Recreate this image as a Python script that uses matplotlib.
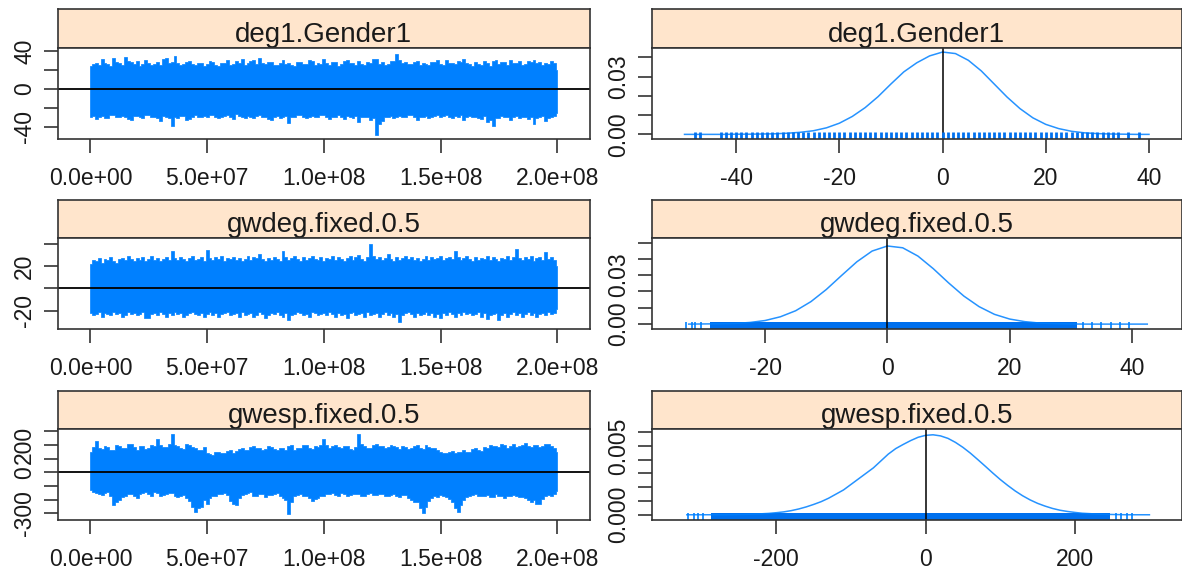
import numpy as np
import matplotlib.pyplot as plt

plt.rcParams['font.family'] = ['Liberation Sans', 'DejaVu Sans']
plt.rcParams['axes.unicode_minus'] = False

stat_names = ["deg1.Gender1", "gwdeg.fixed.0.5", "gwesp.fixed.0.5"]

# MCMC trace: max / min of each statistic within blocks of 1.25e6 iterations
iter_blocks = np.linspace(0, 2e8, 161)

deg_hi = [24, 26, 27, 25, 31, 27, 26, 24, 33, 28, 27, 25, 34, 29, 28, 26, 29, 24, 26, 30,
          27, 25, 26, 28, 25, 31, 33, 27, 28, 35, 27, 25, 26, 28, 29, 26, 25, 27, 27, 24,
          26, 29, 28, 25, 24, 27, 27, 30, 25, 26, 29, 27, 31, 25, 27, 29, 30, 26, 33, 27,
          26, 28, 28, 25, 25, 27, 30, 26, 27, 25, 24, 28, 28, 26, 26, 30, 29, 25, 27, 26,
          31, 27, 25, 28, 28, 24, 26, 29, 30, 27, 27, 25, 29, 26, 25, 28, 27, 31, 31, 26,
          28, 25, 26, 29, 29, 37, 30, 27, 28, 26, 26, 28, 29, 25, 27, 26, 25, 28, 28, 30,
          26, 25, 30, 27, 27, 26, 29, 28, 31, 27, 26, 24, 28, 26, 25, 29, 27, 24, 29, 30,
          26, 28, 28, 25, 30, 27, 27, 29, 25, 26, 29, 28, 30, 27, 28, 25, 27, 26, 29, 27,
          20]
deg_lo = [-30, -28, -32, -29, -28, -31, -31, -27, -27, -30, -30, -28, -29, -32, -33, -28, -28, -30, -31, -27,
          -27, -29, -30, -31, -34, -28, -29, -31, -39, -30, -31, -28, -28, -33, -32, -29, -27, -30, -30, -28,
          -29, -27, -27, -30, -31, -29, -28, -27, -30, -32, -26, -28, -29, -31, -28, -30, -31, -28, -27, -29,
          -30, -32, -33, -29, -28, -31, -30, -28, -36, -30, -29, -27, -27, -30, -31, -29, -28, -30, -30, -27,
          -27, -29, -32, -30, -29, -27, -30, -32, -28, -29, -31, -28, -35, -30, -30, -29, -33, -31, -48, -37,
          -34, -30, -29, -28, -31, -29, -28, -30, -30, -27, -27, -29, -33, -30, -29, -28, -31, -30, -28, -27,
          -30, -28, -27, -29, -31, -28, -29, -27, -33, -30, -28, -29, -30, -31, -32, -28, -35, -33, -39, -31,
          -31, -28, -29, -30, -33, -29, -28, -31, -30, -29, -32, -30, -37, -31, -29, -28, -34, -31, -30, -28,
          -25]

gwdeg_hi = [22, 25, 24, 27, 23, 26, 25, 28, 24, 23, 26, 27, 25, 29, 26, 24, 27, 25, 28, 24,
            26, 29, 25, 27, 24, 26, 28, 25, 33, 27, 25, 28, 26, 24, 27, 29, 25, 26, 28, 24,
            34, 27, 25, 28, 26, 29, 24, 27, 26, 28, 25, 27, 24, 26, 29, 25, 28, 27, 31, 26,
            24, 27, 25, 28, 26, 24, 33, 28, 25, 27, 29, 26, 24, 28, 25, 27, 29, 26, 25, 28,
            24, 27, 26, 29, 25, 28, 26, 24, 27, 29, 25, 28, 30, 26, 24, 28, 40, 29, 26, 28,
            25, 27, 31, 26, 24, 28, 25, 27, 29, 26, 28, 25, 27, 24, 26, 29, 25, 28, 26, 27,
            29, 25, 27, 28, 26, 33, 28, 25, 27, 29, 26, 24, 28, 25, 27, 26, 29, 25, 28, 26,
            24, 27, 26, 29, 25, 28, 35, 27, 25, 28, 26, 29, 24, 27, 28, 25, 32, 26, 28, 25,
            20]
gwdeg_lo = [-22, -24, -23, -21, -25, -22, -23, -24, -21, -23, -22, -25, -24, -21, -23, -22, -24, -23, -21, -26,
            -26, -23, -22, -24, -21, -23, -25, -22, -24, -21, -23, -22, -25, -24, -22, -21, -23, -24, -22, -25,
            -23, -21, -24, -22, -25, -23, -22, -21, -24, -23, -22, -25, -21, -24, -23, -22, -25, -24, -21, -23,
            -26, -24, -22, -23, -21, -24, -25, -22, -28, -24, -23, -21, -22, -24, -23, -25, -21, -22, -24, -23,
            -22, -24, -21, -23, -25, -22, -24, -23, -26, -22, -21, -24, -23, -22, -25, -21, -24, -23, -22, -25,
            -23, -21, -24, -22, -25, -23, -30, -24, -22, -21, -23, -25, -22, -24, -23, -21, -24, -22, -25, -23,
            -26, -22, -24, -21, -23, -25, -22, -24, -21, -23, -22, -24, -23, -21, -25, -22, -27, -24, -23, -22,
            -28, -24, -22, -25, -23, -21, -24, -22, -25, -23, -21, -24, -22, -25, -23, -22, -24, -21, -23, -22,
            -18]

gwesp_hi = [150, 185, 229, 175, 170, 190, 185, 165, 160, 200, 195, 175, 175, 210, 205, 185, 165, 190, 190, 170,
            180, 200, 195, 246, 200, 185, 185, 210, 277, 200, 190, 175, 170, 205, 200, 185, 175, 160, 160, 185,
            145, 135, 130, 150, 150, 140, 140, 155, 160, 145, 155, 170, 175, 160, 165, 185, 195, 175, 180, 165,
            170, 190, 185, 170, 160, 180, 175, 160, 190, 200, 165, 180, 180, 200, 200, 175, 170, 190, 185, 200,
            241, 200, 180, 195, 200, 185, 175, 190, 190, 170, 165, 185, 277, 210, 195, 180, 180, 200, 205, 190,
            190, 175, 182, 200, 193, 185, 171, 195, 188, 170, 178, 190, 197, 180, 168, 200, 186, 175, 181, 160,
            150, 145, 138, 150, 157, 140, 146, 150, 162, 150, 148, 170, 176, 165, 158, 185, 179, 200, 193, 190,
            186, 210, 198, 180, 192, 205, 188, 195, 203, 215, 196, 185, 201, 200, 189, 190, 207, 210, 194, 180,
            150]
gwesp_lo = [-130, -145, -150, -160, -165, -150, -145, -170, -240, -215, -200, -180, -170, -160, -155, -175, -185, -160, -150, -145,
            -160, -170, -145, -150, -175, -165, -160, -150, -150, -170, -180, -175, -165, -190, -210, -250, -290, -260, -250, -200,
            -230, -190, -175, -170, -160, -155, -150, -165, -210, -230, -240, -190, -165, -160, -150, -145, -170, -175, -155, -160,
            -180, -165, -165, -155, -150, -175, -190, -200, -302, -220, -170, -165, -160, -170, -175, -185, -210, -195, -190, -175,
            -170, -160, -155, -150, -165, -170, -150, -160, -175, -165, -160, -155, -155, -170, -170, -160, -150, -165, -165, -160,
            -155, -170, -170, -165, -160, -175, -180, -165, -165, -185, -200, -215, -220, -260, -300, -250, -210, -190, -175, -180,
            -165, -170, -180, -195, -220, -260, -290, -240, -200, -180, -170, -165, -160, -175, -175, -170, -165, -180, -180, -160,
            -170, -175, -185, -170, -170, -165, -175, -180, -180, -190, -200, -215, -200, -230, -230, -195, -170, -165, -170, -160,
            -140]

# kernel density estimates
deg_x = np.arange(-50, 40.1, 2.5)
deg_dens = [0.0, 0.0, 0.0, 0.0, 0.0001, 0.0001, 0.0002, 0.0003, 0.0006, 0.0011,
            0.0019, 0.0034, 0.0058, 0.0093, 0.0139, 0.0196, 0.0262, 0.0325, 0.0372, 0.0408,
            0.0428, 0.0420, 0.0385, 0.0330, 0.0262, 0.0194, 0.0134, 0.0086, 0.0052, 0.0030,
            0.0016, 0.0008, 0.0004, 0.0002, 0.0001, 0.0, 0.0]

gwdeg_x = np.arange(-32.5, 42.6, 2.5)
gwdeg_dens = [0.0, 0.0001, 0.0002, 0.0004, 0.0010, 0.0022, 0.0045, 0.0082, 0.0138, 0.0212,
              0.0298, 0.0382, 0.0448, 0.0479, 0.0468, 0.0417, 0.0340, 0.0253, 0.0172, 0.0107,
              0.0060, 0.0031, 0.0015, 0.0006, 0.0003, 0.0001, 0.0, 0.0, 0.0, 0.0, 0.0]

gwesp_x = np.arange(-320, 301, 10)
gwesp_dens = [0.0, 0.0, 0.0, 0.000001, 0.000002, 0.000004, 0.00001, 0.00002, 0.00003, 0.00005,
              0.00007, 0.0001, 0.00015, 0.00021, 0.0003, 0.00042, 0.00057, 0.00075, 0.00095, 0.0012,
              0.0015, 0.0018, 0.0022, 0.0026, 0.0030, 0.0034, 0.0039, 0.0044, 0.0048, 0.0051,
              0.00538, 0.00562, 0.00576, 0.00580, 0.00572, 0.00554, 0.00525, 0.00489, 0.00447, 0.00400,
              0.00352, 0.00303, 0.00256, 0.00213, 0.00173, 0.00138, 0.00108, 0.00083, 0.00063, 0.00046,
              0.00033, 0.00024, 0.00017, 0.00011, 0.00008, 0.00005, 0.00003, 0.00002, 0.00001, 0.0,
              0.0, 0.0, 0.0]

# sampled values shown as a rug under each density
deg_rug = [-48, -47] + list(range(-43, 35)) + [36, 38]
gwdeg_rug_core = (-29.0, 31.0)
gwdeg_rug_tails = [-33.0, -32.0, -31.4, -30.5, 32.0, 33.5, 35.0, 36.5, 38.0, 39.5]
gwesp_rug_core = (-288.0, 247.0)
gwesp_rug_tails = [-318, -311, -305, -298, 255, 262, 270, 277]

trace_hi = [deg_hi, gwdeg_hi, gwesp_hi]
trace_lo = [deg_lo, gwdeg_lo, gwesp_lo]
dens_x = [deg_x, gwdeg_x, gwesp_x]
dens_y = [deg_dens, gwdeg_dens, gwesp_dens]

trace_ylim = [(-52.4, 43.2), (-36.1, 44.9), (-348.6, 317.0)]
trace_yticks = [[-40, -20, 0, 20, 40], [-20, 0, 20, 40], [-300, -200, -100, 0, 100, 200, 300]]
trace_ylabels = [["-40", "", "0", "", "40"], ["-20", "", "20", ""],
                 ["-300", "", "", "0", "", "200", ""]]
trace_xticks = [0, 5e7, 1e8, 1.5e8, 2e8]
trace_xlabels = ["0.0e+00", "5.0e+07", "1.0e+08", "1.5e+08", "2.0e+08"]

dens_xlim = [(-56.3, 46.3), (-38.5, 48.1), (-366.7, 343.0)]
dens_ylim = [(-0.0023, 0.0450), (-0.0030, 0.0528), (-0.00038, 0.00622)]
dens_xticks = [[-40, -20, 0, 20, 40], [-20, 0, 20, 40], [-200, 0, 200]]
dens_yticks = [[0, 0.01, 0.02, 0.03, 0.04], [0, 0.01, 0.02, 0.03, 0.04, 0.05],
               [0, 0.001, 0.002, 0.003, 0.004, 0.005, 0.006]]
dens_ylabels = [["0.00", "", "", "0.03", ""], ["0.00", "", "", "0.03", "", ""],
                ["0.000", "", "", "", "", "0.005", ""]]

BLUE = "#0080ff"
RUG = "#0070ee"
STRIP = "#ffe5cc"
FRAME = "#333333"
TXT = "#1a1a1a"

W, H = 1182, 578
fig = plt.figure(figsize=(W / 100, H / 100), dpi=100)


def box(x0, x1, top, bottom):
    return [x0 / W, 1 - bottom / H, (x1 - x0) / W, (bottom - top) / H]


row_tops = [9.3, 199.5, 390.5]
strip_h = 38.5
panel_h = 91.0
cols = [(57.7, 590.0), (652.0, 1181.5)]


def style_frame(ax):
    for sp in ax.spines.values():
        sp.set_color(FRAME)
        sp.set_linewidth(1.2)


def add_strip(x0, x1, top, name):
    sa = fig.add_axes(box(x0, x1, top, top + strip_h))
    sa.set_facecolor(STRIP)
    sa.set_xticks([])
    sa.set_yticks([])
    style_frame(sa)
    sa.text(0.5, 0.16, name, ha="center", va="baseline", fontsize=20,
            color=TXT, transform=sa.transAxes)


def setup_axis(ax):
    style_frame(ax)
    ax.tick_params(direction="out", length=10, width=1.2, color=FRAME,
                   labelsize=16.5, labelcolor=TXT, top=False, right=False)
    ax.tick_params(axis="x", pad=10)
    ax.tick_params(axis="y", pad=5.5)


for r, name in enumerate(stat_names):
    top = row_tops[r]
    ptop = top + strip_h
    pbot = ptop + panel_h

    # trace plot
    x0, x1 = cols[0]
    add_strip(x0, x1, top, name)
    ax = fig.add_axes(box(x0, x1, ptop, pbot))
    ax.fill_between(iter_blocks, trace_lo[r], trace_hi[r], step="mid",
                    color=BLUE, lw=0.5)
    ax.axhline(0, color="black", lw=1.3)
    ax.set_xlim(-1.4e7, 2.14e8)
    ax.set_ylim(*trace_ylim[r])
    ax.set_xticks(trace_xticks)
    ax.set_xticklabels(trace_xlabels)
    ax.set_yticks(trace_yticks[r])
    ax.set_yticklabels(trace_ylabels[r], rotation=90, va="center")
    setup_axis(ax)

    # density plot with rug of sampled values
    x0, x1 = cols[1]
    add_strip(x0, x1, top, name)
    ax = fig.add_axes(box(x0, x1, ptop, pbot))
    ax.plot(dens_x[r], dens_y[r], color=BLUE, lw=1.1, alpha=0.85)
    ax.axvline(0, color="black", lw=1.1)
    xt = ax.get_xaxis_transform()
    if r == 0:
        ax.vlines(deg_rug, 0, 0.08, color=RUG, lw=2.0, transform=xt)
    else:
        core = gwdeg_rug_core if r == 1 else gwesp_rug_core
        tails = gwdeg_rug_tails if r == 1 else gwesp_rug_tails
        ax.fill_between(core, 0, 0.08, color=RUG, lw=0, transform=xt)
        ax.vlines(tails, 0, 0.075, color=BLUE, lw=1.2, transform=xt)
    ax.set_xlim(*dens_xlim[r])
    ax.set_ylim(*dens_ylim[r])
    ax.set_xticks(dens_xticks[r])
    ax.set_yticks(dens_yticks[r])
    ax.set_yticklabels(dens_ylabels[r], rotation=90, va="center")
    setup_axis(ax)

fig.savefig("out.png", dpi=100)
